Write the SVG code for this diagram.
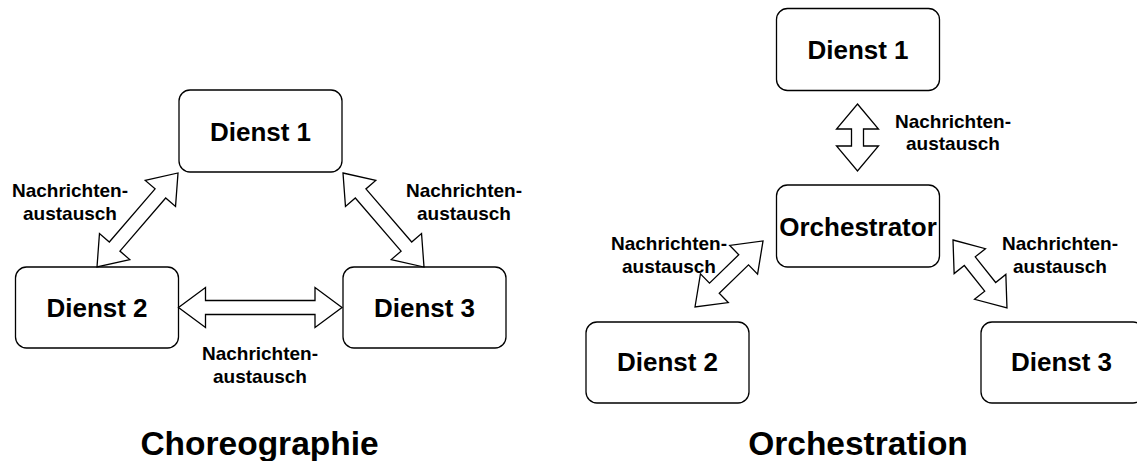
<svg xmlns="http://www.w3.org/2000/svg" width="1137" height="461" viewBox="0 0 1137 461">
  <style>
    .box { fill: #ffffff; stroke: #000000; stroke-width: 1.3; }
    .arrow { fill: #ffffff; stroke: #000000; stroke-width: 1.3; stroke-linejoin: miter; }
    text { font-family: "Liberation Sans", Arial, Helvetica, sans-serif; font-weight: bold; fill: #000000; text-anchor: middle; }
    .name { font-size: 26px; }
    .msg { font-size: 19px; }
    .title { font-size: 33.5px; }
  </style>

  <rect width="1137" height="461" fill="#ffffff"/>

  <!-- Choreographie: three services talking to each other directly -->
  <g id="choreo-dienst1">
    <rect class="box" x="179" y="90" width="163" height="82" rx="11"/>
    <text class="name" x="260.5" y="140.5">Dienst 1</text>
  </g>
  <g id="choreo-dienst2">
    <rect class="box" x="15.5" y="267" width="163" height="81" rx="11"/>
    <text class="name" x="97" y="317">Dienst 2</text>
  </g>
  <g id="choreo-dienst3">
    <rect class="box" x="343" y="267" width="163" height="81" rx="11"/>
    <text class="name" x="424.5" y="317">Dienst 3</text>
  </g>

  <!-- Orchestration: one orchestrator in the middle -->
  <g id="orch-dienst1">
    <rect class="box" x="776.5" y="8.5" width="163" height="82" rx="11"/>
    <text class="name" x="858" y="59">Dienst 1</text>
  </g>
  <g id="orch-orchestrator">
    <rect class="box" x="776.5" y="185" width="163" height="82" rx="11"/>
    <text class="name" x="858" y="235.5">Orchestrator</text>
  </g>
  <g id="orch-dienst2">
    <rect class="box" x="586" y="322" width="163" height="81" rx="11"/>
    <text class="name" x="667.5" y="371">Dienst 2</text>
  </g>
  <g id="orch-dienst3">
    <rect class="box" x="981" y="322" width="163" height="81" rx="11"/>
    <text class="name" x="1061.5" y="371">Dienst 3</text>
  </g>

  <!-- Double-headed block arrows, each drawn along +x and then placed -->
  <g id="connectors">
    <!-- Dienst 2 <-> Dienst 1 -->
    <path class="arrow" transform="translate(97,267) rotate(-49.25)"
          d="M0,0 L27,-20 L27,-7 L97.1,-7 L97.1,-20 L124.1,0 L97.1,20 L97.1,7 L27,7 L27,20 Z"/>
    <!-- Dienst 1 <-> Dienst 3 -->
    <path class="arrow" transform="translate(343,173) rotate(49.25)"
          d="M0,0 L27,-20 L27,-7 L97.1,-7 L97.1,-20 L124.1,0 L97.1,20 L97.1,7 L27,7 L27,20 Z"/>
    <!-- Dienst 2 <-> Dienst 3 -->
    <path class="arrow" transform="translate(178.5,307.5)"
          d="M0,0 L27,-20 L27,-7 L136.5,-7 L136.5,-20 L163.5,0 L136.5,20 L136.5,7 L27,7 L27,20 Z"/>
    <!-- Dienst 1 <-> Orchestrator -->
    <path class="arrow" transform="translate(857.5,104) rotate(90)"
          d="M0,0 L25,-21 L25,-6 L42,-6 L42,-21 L67,0 L42,21 L42,6 L25,6 L25,21 Z"/>
    <!-- Dienst 2 <-> Orchestrator -->
    <path class="arrow" transform="translate(695,307) rotate(-44.15)"
          d="M0,0 L27,-20 L27,-7 L67.8,-7 L67.8,-20 L94.8,0 L67.8,20 L67.8,7 L27,7 L27,20 Z"/>
    <!-- Orchestrator <-> Dienst 3 -->
    <path class="arrow" transform="translate(953,240) rotate(51.55)"
          d="M0,0 L27,-20 L27,-7 L59.8,-7 L59.8,-20 L86.8,0 L59.8,20 L59.8,7 L27,7 L27,20 Z"/>
  </g>

  <!-- Connector labels -->
  <g id="labels">
    <text class="msg" x="70" y="197">Nachrichten-<tspan x="70" y="219.5">austausch</tspan></text>
    <text class="msg" x="464" y="197">Nachrichten-<tspan x="464" y="219.5">austausch</tspan></text>
    <text class="msg" x="260" y="360">Nachrichten-<tspan x="260" y="383">austausch</tspan></text>
    <text class="msg" x="953" y="127.5">Nachrichten-<tspan x="953" y="150">austausch</tspan></text>
    <text class="msg" x="669" y="250">Nachrichten-<tspan x="669" y="273">austausch</tspan></text>
    <text class="msg" x="1060" y="250">Nachrichten-<tspan x="1060" y="273">austausch</tspan></text>
  </g>

  <!-- Section titles -->
  <g id="titles">
    <text class="title" x="259.5" y="455">Choreographie</text>
    <text class="title" x="858" y="455">Orchestration</text>
  </g>
</svg>
